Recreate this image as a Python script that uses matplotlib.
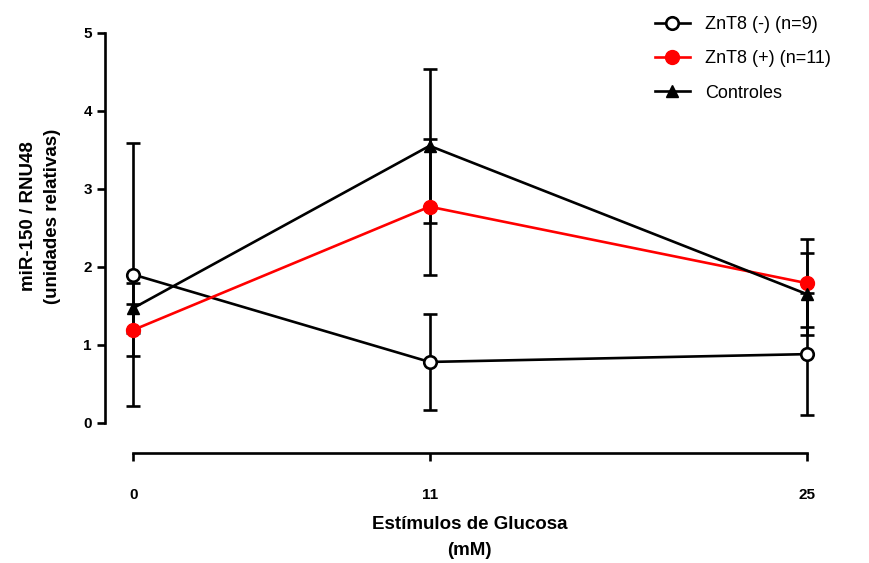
import matplotlib
matplotlib.use("Agg")
import matplotlib.pyplot as plt

# datos
glucosa = [0, 11, 25]
znt8_neg = [1.90, 0.78, 0.88]
znt8_neg_err = [1.68, 0.61, 0.78]
znt8_pos = [1.19, 2.77, 1.79]
znt8_pos_err = [0.33, 0.87, 0.56]
controles = [1.47, 3.55, 1.65]
controles_err = [0.32, 0.99, 0.52]

etiquetas = ["ZnT8 (-) (n=9)", "ZnT8 (+) (n=11)", "Controles"]

plt.rcParams['font.family'] = ['Liberation Sans', 'DejaVu Sans']

fig = plt.figure(figsize=(8.7, 5.63), dpi=100)
W, H = 870, 563
ax = fig.add_axes([105 / W, (H - 453) / H, 725 / W, 431 / H])

lw = 1.9
ebar = dict(fmt='none', ecolor='black', elinewidth=lw, capsize=5.2, capthick=lw, zorder=2)
ax.errorbar(glucosa, znt8_neg, yerr=znt8_neg_err, **ebar)
ax.errorbar(glucosa, znt8_pos, yerr=znt8_pos_err, **ebar)
ax.errorbar(glucosa, controles, yerr=controles_err, **ebar)

ax.plot(glucosa, znt8_neg, color='black', lw=lw, marker='o', markersize=9,
        markerfacecolor='white', markeredgecolor='black', markeredgewidth=1.9,
        label=etiquetas[0], zorder=3, clip_on=False)
ax.plot(glucosa, znt8_pos, color='red', lw=lw, marker='o', markersize=10,
        markerfacecolor='red', markeredgecolor='red',
        label=etiquetas[1], zorder=4, clip_on=False)
ax.plot(glucosa, controles, color='black', lw=lw, marker='^', markersize=9,
        markerfacecolor='black', markeredgecolor='black',
        label=etiquetas[2], zorder=5, clip_on=False)

ax.set_xlim(-1.05, 25.865)
ax.set_ylim(-0.387, 5.137)
ax.set_xticks(glucosa)
ax.set_xticklabels([str(g) for g in glucosa])
ax.set_yticks([0, 1, 2, 3, 4, 5])

for s in ['top', 'right']:
    ax.spines[s].set_visible(False)
ax.spines['left'].set_bounds(0, 5)
ax.spines['bottom'].set_bounds(0, 25)
ax.spines['left'].set_linewidth(lw)
ax.spines['bottom'].set_linewidth(lw)

ax.tick_params(axis='both', width=lw, length=6, labelsize=11, direction='out')
ax.tick_params(axis='y', pad=3.5)
ax.tick_params(axis='x', pad=19)
for t in ax.get_xticklabels() + ax.get_yticklabels():
    t.set_fontweight('bold')

ax.set_xlabel("Estímulos de Glucosa\n(mM)", fontsize=13.5, fontweight='bold', linespacing=1.65)
ax.xaxis.set_label_coords(0.503, -0.147)
ax.set_ylabel("miR-150 / RNU48\n(unidades relativas)", fontsize=13.5, fontweight='bold', linespacing=1.55)
ax.yaxis.set_label_coords(-0.06, 0.55)

fig.legend(loc='upper left', bbox_to_anchor=(648 / W, 1 - 9 / H), frameon=False,
           fontsize=13, handlelength=1.9, handletextpad=0.85, labelspacing=0.95,
           numpoints=1, borderaxespad=0)

fig.savefig("out.png", dpi=100)
